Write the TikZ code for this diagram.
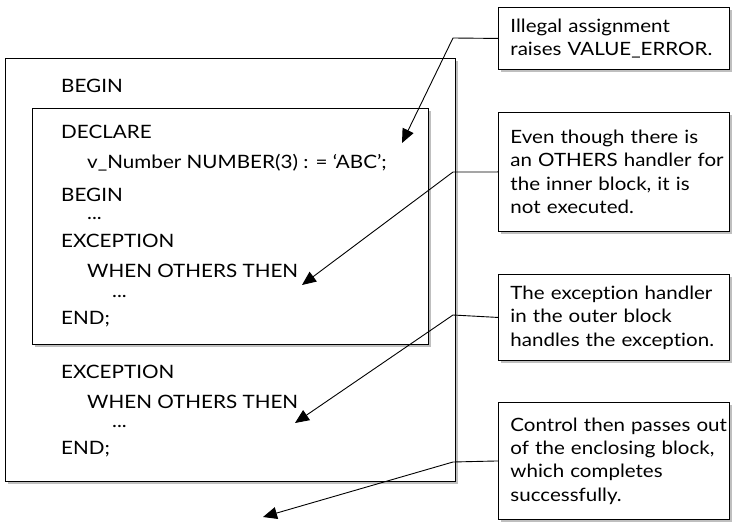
\documentclass[tikz,border=0pt]{standalone}
\usepackage{fontspec}
\setmainfont{Lato}[FakeStretch=1.12,Ligatures=NoCommon]
\usetikzlibrary{arrows.meta,shadows}

\tikzset{
  shade/.style={drop shadow={shadow xshift=3bp,shadow yshift=-3bp,fill=black!25,opacity=1}},
  blockbox/.style={draw,line width=0.9bp,fill=white,shade,inner sep=0pt,anchor=north west},
  note/.style={draw,line width=0.9bp,fill=white,shade,inner sep=0pt,anchor=north west,
    minimum width=231bp,text width=231bp,align=left,
    execute at begin node={\leftskip=12bp\relax},
    font=\fontsize{18.4}{23.5}\selectfont},
  code/.style={anchor=base west,inner sep=0pt,font=\fontsize{18.5}{20}\selectfont},
  pointer/.style={line width=0.9bp,-{Triangle[length=14bp,width=12bp]}}
}

\begin{document}
\begin{tikzpicture}[x=1bp,y=-1bp]
\useasboundingbox (0,0) rectangle (732,522);

% nested PL/SQL blocks
\node[blockbox,minimum width=450bp,minimum height=423bp] (outer) at (5,58) {};
\node[blockbox,minimum width=396bp,minimum height=236bp] (inner) at (32,108) {};

% source text
\node[code] (l1)  at (61,93)  {BEGIN};
\node[code] (l2)  at (61,139) {DECLARE};
\node[code] (l3)  at (87,169) {v\_Number NUMBER(3) : = ‘ABC’;};
\node[code] (l4)  at (61,202) {BEGIN};
\node[code] (l5)  at (87,220) {...};
\node[code] (l6)  at (61,248) {EXCEPTION};
\node[code] (l7)  at (87,278) {WHEN OTHERS THEN};
\node[code] (l8)  at (112,297) {...};
\node[code] (l9)  at (61,324) {END;};
\node[code] (l10) at (61,378) {EXCEPTION};
\node[code] (l11) at (87,408) {WHEN OTHERS THEN};
\node[code] (l12) at (112,427) {...};
\node[code] (l13) at (61,454) {END;};

% explanatory notes
\node[note,minimum height=62bp]  (c1) at (498,7)   {Illegal assignment\\raises VALUE\_ERROR.};
\node[note,minimum height=119bp] (c2) at (498,112) {Even though there is\\an OTHERS handler for\\the inner block, it is\\not executed.};
\node[note,minimum height=86bp]  (c3) at (498,274) {The exception handler\\in the outer block\\handles the exception.};
\node[note,minimum height=117bp] (c4) at (498,402) {Control then passes out\\of the enclosing block,\\which completes\\successfully.};

% leader bends and arrow targets
\coordinate (k1) at (453,38);
\coordinate (k2) at (453,172);
\coordinate (k3) at (453,315);
\coordinate (k4) at (453,462);
\coordinate (t1) at (402,143);
\coordinate (t2) at (302,285);
\coordinate (t3) at (295,423);
\coordinate (t4) at (263,517);

\draw[pointer] (c1.west) -- (k1) -- (t1);
\draw[pointer] (c2.west) -- (k2) -- (t2);
\draw[pointer] (c3.west) -- (k3) -- (t3);
\draw[pointer] (c4.west) -- (k4) -- (t4);
\end{tikzpicture}
\end{document}
